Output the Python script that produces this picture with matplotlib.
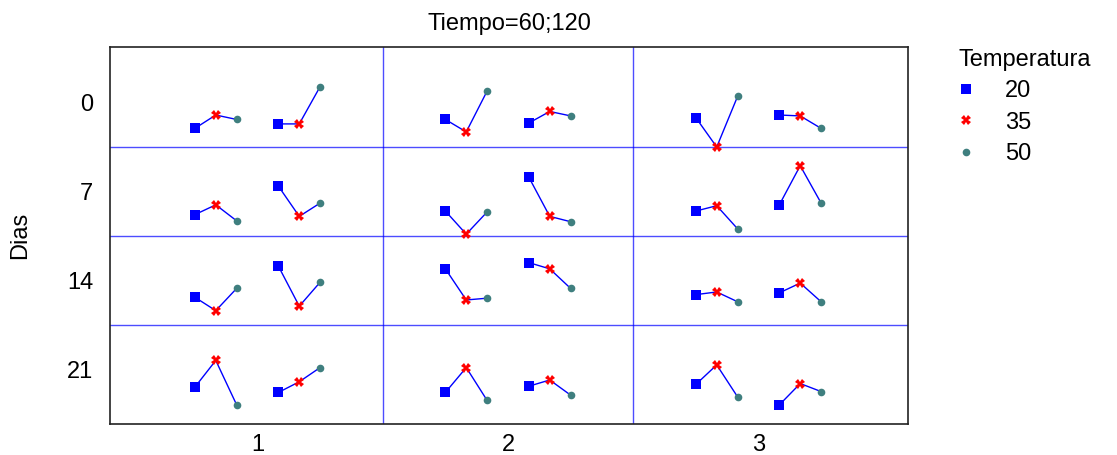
import numpy as np
import matplotlib.pyplot as plt

plt.rcParams['font.family'] = ['Liberation Sans', 'DejaVu Sans']

# categories
columnas = [1, 2, 3]
dias = ['0', '7', '14', '21']
tiempos = [60, 120]
temperaturas = ['20', '35', '50']

# response per Dias row, in row units (positive = up)
# each row: 3 columns x [tiempo 60, tiempo 120] x [20, 35, 50]
dia_0 = [[[-0.29, -0.14, -0.19], [-0.24, -0.24, 0.18]],
         [[-0.19, -0.33, 0.13], [-0.23, -0.10, -0.15]],
         [[-0.17, -0.50, 0.07], [-0.14, -0.15, -0.29]]]
dia_7 = [[[-0.26, -0.15, -0.33], [0.06, -0.28, -0.13]],
         [[-0.22, -0.48, -0.23], [0.16, -0.28, -0.34]],
         [[-0.22, -0.16, -0.42], [-0.15, 0.29, -0.13]]]
dia_14 = [[[-0.19, -0.34, -0.09], [0.16, -0.29, -0.02]],
          [[0.13, -0.22, -0.20], [0.20, 0.13, -0.09]],
          [[-0.16, -0.13, -0.24], [-0.14, -0.03, -0.24]]]
dia_21 = [[[-0.20, 0.10, -0.40], [-0.26, -0.14, 0.02]],
          [[-0.26, 0.02, -0.35], [-0.19, -0.12, -0.29]],
          [[-0.17, 0.05, -0.31], [-0.40, -0.16, -0.25]]]
filas = [dia_0, dia_7, dia_14, dia_21]

colores = ['#0000ff', '#ff0000', '#3f7f7f']
marcadores = ['s', 'X', 'o']
tamanos = [6.5, 7, 5.5]

fig = plt.figure(figsize=(11.17, 4.55), dpi=100)
ax = fig.add_axes([110/1117, 1-424/455, 798/1117, 377/455])

off_t = [-1/6, 1/6]   # tiempo offset
off_k = [-1/12, 0, 1/12]  # temperatura offset

for i, fila in enumerate(filas):
    for j, col in enumerate(columnas):
        for t in range(len(tiempos)):
            xs = [col + off_t[t] + o for o in off_k]
            ys = [i - v for v in fila[j][t]]
            ax.plot(xs, ys, color='#0000ff', lw=1, zorder=2)
            for k in range(3):
                ax.plot(xs[k], ys[k], ls='none', marker=marcadores[k], color=colores[k],
                        ms=tamanos[k], mew=0, zorder=3,
                        label=temperaturas[k] if (i == 0 and j == 0 and t == 0) else None)

# panel separators
for y in [0.5, 1.5, 2.5]:
    ax.axhline(y, color='#0000ff', lw=1, alpha=0.7, zorder=1)
for x in [1.5, 2.5]:
    ax.axvline(x, color='#0000ff', lw=1, alpha=0.7, zorder=1)

ax.set_xlim(0.411, 3.597)
ax.set_ylim(3.615, -0.625)
ax.set_xticks(columnas)
ax.set_xticklabels([str(c) for c in columnas], fontsize=17)
ax.set_yticks(range(len(dias)))
ax.set_yticklabels(dias, fontsize=17)
ax.tick_params(length=0)
ax.tick_params(axis='x', pad=7)
ax.tick_params(axis='y', pad=12)
for s in ax.spines.values():
    s.set_color('#222222')
    s.set_linewidth(1.2)

ax.set_ylabel('Dias', fontsize=17, labelpad=26)
ax.set_title('Tiempo=60;120', fontsize=17, pad=12)

leg = ax.legend(title='Temperatura', loc='upper left', bbox_to_anchor=(1.052, 1.019),
                frameon=False, fontsize=17, title_fontsize=17, handlelength=0.6,
                handletextpad=1.35, labelspacing=0.39, borderaxespad=0,
                alignment='left')

fig.savefig('out.png', dpi=100)
